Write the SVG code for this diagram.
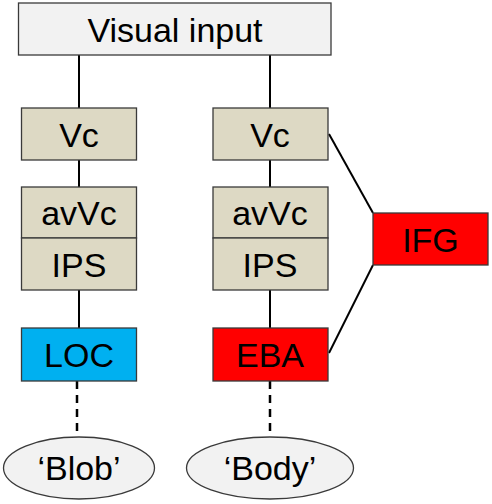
<svg xmlns="http://www.w3.org/2000/svg" width="492" height="504" viewBox="0 0 492 504">
<style>
.box{stroke:#3a3a3a;stroke-width:1.3}
.tan{fill:#ddd9c4}
.lbl{font-family:"Liberation Sans",Arial,sans-serif;font-size:34px;fill:#000;text-anchor:middle}
.ln{stroke:#000;stroke-width:2;fill:none}
.dash{stroke:#000;stroke-width:2.5;fill:none;stroke-dasharray:8,6}
</style>
<rect width="492" height="504" fill="#fff"/>
<g id="connectors">
<line class="ln" x1="79" y1="55" x2="79" y2="108"/>
<line class="ln" x1="270" y1="55" x2="270" y2="108"/>
<line class="ln" x1="79" y1="160" x2="79" y2="187"/>
<line class="ln" x1="270" y1="160" x2="270" y2="187"/>
<line class="ln" x1="79" y1="290" x2="79" y2="328"/>
<line class="ln" x1="270" y1="290" x2="270" y2="328"/>
<line class="ln" x1="329" y1="134" x2="373" y2="213"/>
<line class="ln" x1="373" y1="265" x2="329" y2="353"/>
<line class="dash" x1="77" y1="381" x2="77" y2="434"/>
<line class="dash" x1="270" y1="381" x2="270" y2="434"/>
</g>
<g id="visual-input">
<rect class="box" x="18.5" y="3" width="312.5" height="52" fill="#f2f2f2"/>
<text class="lbl" x="175" y="42">Visual input</text>
</g>
<g id="vc-left">
<rect class="box tan" x="21.5" y="108" width="115" height="52"/>
<text class="lbl" x="79" y="147">Vc</text>
</g>
<g id="vc-right">
<rect class="box tan" x="213" y="108" width="115" height="52"/>
<text class="lbl" x="270" y="147">Vc</text>
</g>
<g id="avvc-left">
<rect class="box tan" x="21.5" y="187" width="115" height="51"/>
<text class="lbl" x="79" y="225">avVc</text>
</g>
<g id="ips-left">
<rect class="box tan" x="21.5" y="238" width="115" height="52"/>
<text class="lbl" x="79" y="277">IPS</text>
</g>
<g id="avvc-right">
<rect class="box tan" x="213" y="187" width="115" height="51"/>
<text class="lbl" x="270" y="225">avVc</text>
</g>
<g id="ips-right">
<rect class="box tan" x="213" y="238" width="115" height="52"/>
<text class="lbl" x="270" y="277">IPS</text>
</g>
<g id="ifg">
<rect class="box" x="373" y="213" width="115" height="52" fill="#ff0000"/>
<text class="lbl" x="430.5" y="252">IFG</text>
</g>
<g id="loc">
<rect class="box" x="21.5" y="328" width="115" height="53" fill="#00b0f0"/>
<text class="lbl" x="79" y="367">LOC</text>
</g>
<g id="eba">
<rect class="box" x="213" y="328" width="115" height="53" fill="#ff0000"/>
<text class="lbl" x="270" y="367">EBA</text>
</g>
<g id="blob">
<ellipse class="box" cx="79" cy="468" rx="75.5" ry="31" fill="#f2f2f2"/>
<text class="lbl" x="79" y="480">‘Blob’</text>
</g>
<g id="body">
<ellipse class="box" cx="270" cy="468" rx="83.5" ry="31" fill="#f2f2f2"/>
<text class="lbl" x="270" y="480">‘Body’</text>
</g>
</svg>
